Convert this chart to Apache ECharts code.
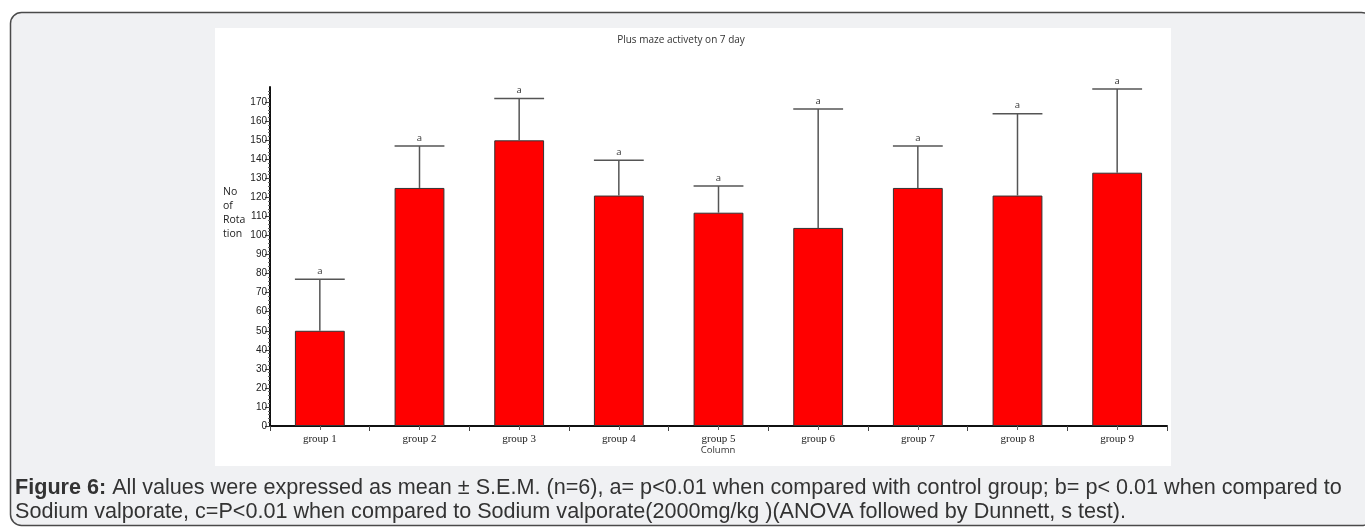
<!DOCTYPE html>
<html>
<head>
<meta charset="utf-8">
<script src="https://cdn.jsdelivr.net/npm/echarts@6/dist/echarts.min.js"></script>
<style>
html,body{margin:0;padding:0;background:#fff;}
#c{width:1365px;height:532px;}
</style>
</head>
<body>
<div id="c"></div>
<script>
const categories = ['group 1','group 2','group 3','group 4','group 5','group 6','group 7','group 8','group 9'];
const means = [50, 125, 150, 121, 112, 104, 125, 121, 133];
const sems = [27, 22, 22, 18.5, 14, 62.5, 22, 43, 44];
const sigLabels = ['a','a','a','a','a','a','a','a','a'];
const yTickValues = [0,10,20,30,40,50,60,70,80,90,100,110,120,130,140,150,160,170];
const titleText = 'Plus maze activety on 7 day';
const yNameLines = ['No','of','Rota','tion'];
const xName = 'Column';
const captionBold = 'Figure 6:';
const captionLine1 = ' All values were expressed as mean \u00b1 S.E.M. (n=6), a= p<0.01 when compared with control group; b= p< 0.01 when compared to';
const captionLine2 = 'Sodium valporate, c=P<0.01 when compared to Sodium valporate(2000mg/kg )(ANOVA followed by Dunnett, s test).';

const chart = echarts.init(document.getElementById('c'), null, {renderer:'canvas'});
const errData = categories.map((c,i)=>[i, means[i], means[i]+sems[i], sigLabels[i]]);
const capFont = '21.6px "Liberation Sans", Arial, sans-serif';

const option = {
  animation:false,
  backgroundColor:'#ffffff',
  graphic:[
    {type:'rect', z:-20, shape:{x:10.5,y:12.5,width:1362,height:513,r:11}, style:{fill:'#f0f1f3',stroke:'#4a4a4a',lineWidth:1.5}},
    {type:'rect', z:-19, shape:{x:215,y:28,width:956,height:438}, style:{fill:'#ffffff'}},
    {type:'text', z:10, x:681, y:40, style:{text:titleText, font:'10px "Open Sans", sans-serif', fill:'#333', textAlign:'center', textVerticalAlign:'middle'}},
    {type:'text', z:10, x:223, y:185, style:{text:yNameLines.join('\n'), font:'10.5px "Open Sans", sans-serif', fill:'#222', lineHeight:14}},
    {type:'text', z:10, x:718, y:445, style:{text:xName, font:'9.5px "Open Sans", sans-serif', fill:'#333', textAlign:'center'}},
    {type:'text', z:10, x:15, y:488, style:{
      rich:{b:{font:'bold 21.6px "Liberation Sans", Arial, sans-serif', fill:'#333'}, n:{font:capFont, fill:'#333'}},
      text:'{b|'+captionBold+'}{n|'+captionLine1+'}', fill:'#333', textVerticalAlign:'middle'}},
    {type:'text', z:10, x:15, y:512, style:{text:captionLine2, font:capFont, fill:'#333', textVerticalAlign:'middle'}}
  ],
  grid:{left:270, right:198, top:87, bottom:106, containLabel:false},
  xAxis:[
    {type:'category', data:categories,
     axisLine:{lineStyle:{color:'#111', width:2}},
     axisTick:{show:true, length:5, lineStyle:{color:'#444'}},
     axisLabel:{color:'#222', fontFamily:'"Liberation Serif", serif', fontSize:11, margin:8, interval:0}},
    {type:'category', data:categories, position:'bottom', gridIndex:0,
     axisLine:{show:false},
     axisTick:{show:true, alignWithLabel:true, length:4, lineStyle:{color:'#666'}},
     axisLabel:{show:false}}
  ],
  yAxis:{type:'value', min:0, max:178, interval:10,
    splitLine:{show:false},
    axisLine:{show:true, lineStyle:{color:'#111', width:2}},
    axisTick:{show:true, length:5, customValues:yTickValues, lineStyle:{color:'#444'}},
    minorTick:{show:true, splitNumber:5, length:2, lineStyle:{color:'#666'}},
    axisLabel:{customValues:yTickValues, color:'#222', fontFamily:'"Liberation Sans Narrow", "Liberation Sans", Arial, sans-serif', fontSize:10, margin:3}
  },
  series:[
    {type:'bar', data:means, barWidth:'50%', xAxisIndex:0,
     itemStyle:{color:'#ff0000', borderColor:'#333', borderWidth:1}},
    {type:'custom', xAxisIndex:0, data:errData, z:5,
     renderItem:function(params, api){
       const base = api.coord([api.value(0), api.value(1)]);
       const top = api.coord([api.value(0), api.value(2)]);
       const bw = api.size([1,0])[0]*0.5;
       return {type:'group', children:[
         {type:'line', shape:{x1:base[0], y1:base[1], x2:top[0], y2:top[1]}, style:{stroke:'#555', lineWidth:1.5}},
         {type:'line', shape:{x1:top[0]-bw/2, y1:top[1], x2:top[0]+bw/2, y2:top[1]}, style:{stroke:'#555', lineWidth:1.5}},
         {type:'text', x:top[0], y:top[1]-8, style:{text:api.value(3), font:'9.5px "Open Sans", sans-serif', fill:'#333', textAlign:'center', textVerticalAlign:'middle'}}
       ]};
     }}
  ]
};
chart.setOption(option);
</script>
</body>
</html>
